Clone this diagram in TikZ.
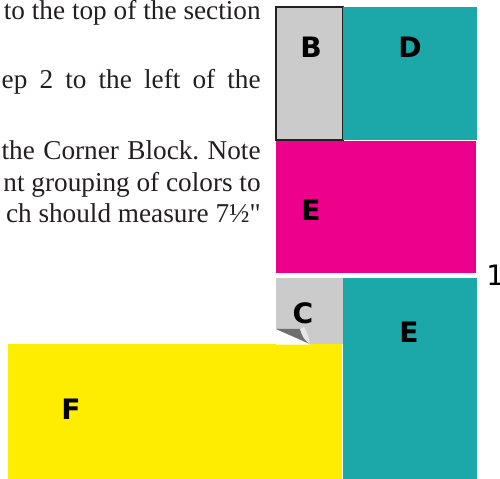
\documentclass[tikz,border=0pt]{standalone}
\usepackage{fontspec}
\setmainfont{Liberation Serif}[Ligatures=TeXOff]
\newfontfamily\patchfont{DejaVu Sans}
\usepackage{tikz}
\usetikzlibrary{positioning}
\frenchspacing
\definecolor{qTeal}{HTML}{1CA7A8}
\definecolor{qMagenta}{HTML}{EC008C}
\definecolor{qYellow}{HTML}{FFED00}
\definecolor{qGray}{HTML}{CBCBCB}
\definecolor{qEdge}{HTML}{222222}
\definecolor{qCurl}{HTML}{6E6E6E}
\definecolor{qCurlLight}{HTML}{E6E6E6}
\definecolor{tInk}{HTML}{231F20}
\tikzset{
  patchlbl/.style={font=\patchfont\bfseries\fontsize{16}{16}\selectfont, inner sep=0pt},
  bodyline/.style={font=\fontsize{15.5}{18}\selectfont, inner sep=0pt, anchor=base east, text=tInk},
}

\begin{document}
\begin{tikzpicture}[x=0.02cm, y=-0.02cm]
  \useasboundingbox (0,0) rectangle (500,479);
  % text of the page, cut at the left
  \node[bodyline] (l1) at (261,20) {\makebox[146.2pt][s]{to the top of the section}};
  \node[bodyline] (l2) at (261,89) {\makebox[147.4pt][s]{ep 2 to the left of the}};
  \node[bodyline] (l3) at (261,160) {\makebox[147.4pt][s]{the Corner Block. Note}};
  \node[bodyline] (l4) at (261,192) {nt grouping of colors to};
  \node[bodyline] (l5) at (261,223) {ch should measure 7½"};
  % upper section
  \fill[qGray] (276,7) rectangle (343,140);
  \draw[qEdge, line width=0.8pt] (276,7) rectangle (343,140);
  \fill[qTeal] (343,7) rectangle (477,140);
  \fill[qMagenta] (276,141) rectangle (476,273);
  % lower section
  \fill[qGray] (276,278) rectangle (343,344);
  \fill[qTeal] (343,278) rectangle (477,479);
  \fill[qYellow] (8,344) rectangle (342,479);
  % page curl on the corner block
  \fill[white] (276,329) -- (276,344.5) -- (310,344.5) -- cycle;
  \fill[qCurl] (276,329) -- (300,329) .. controls (302,336) and (305,341) .. (310,344) -- cycle;
  \fill[qCurlLight] (300,329) .. controls (302,336) and (305,341) .. (310,344)
    .. controls (309,338) and (307,332) .. (304,327) -- cycle;
  % labels
  \node[patchlbl] (b) at (311,47) {B};
  \node[patchlbl] (d) at (410,47) {D};
  \node[patchlbl] (e1) at (311,210) {E};
  \node[patchlbl] (c) at (303,313) {C};
  \node[patchlbl] (e2) at (409,332) {E};
  \node[patchlbl] (f) at (71,409) {F};
  \node[font=\patchfont\fontsize{16}{16}\selectfont, inner sep=0pt, anchor=base west] (n1) at (486,286) {1};
\end{tikzpicture}
\end{document}
